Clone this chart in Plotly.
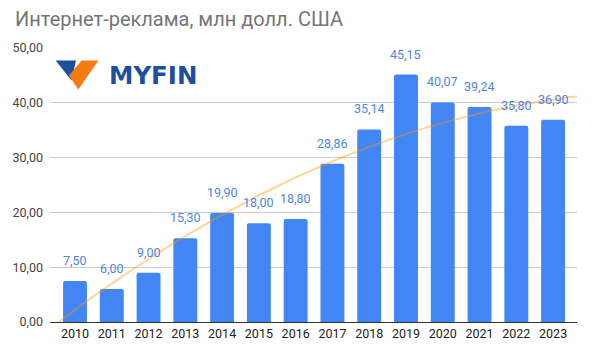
import numpy as np
import plotly.graph_objects as go

years = ["2010", "2011", "2012", "2013", "2014", "2015", "2016",
         "2017", "2018", "2019", "2020", "2021", "2022", "2023"]
values = [7.50, 6.00, 9.00, 15.30, 19.90, 18.00, 18.80,
          28.86, 35.14, 45.15, 40.07, 39.24, 35.80, 36.90]
labels = [f"{v:.2f}".replace(".", ",") for v in values]
title_text = "Интернет-реклама, млн долл. США"
logo_text = "MYFIN"

W, H = 592, 353
ML, MR, MT, MB = 50, 15, 47.5, 27.5
XMIN, XMAX = -0.68, 13.65

idx = np.arange(len(values))
coef = np.polyfit(idx, values, 2)
tx = np.linspace(XMIN, XMAX, 200)
ty = np.polyval(coef, tx)

fig = go.Figure()
fig.add_trace(go.Bar(
    x=idx, y=values,
    marker=dict(color="#4285F4", cornerradius=2, line=dict(width=0)),
    width=0.65, hoverinfo="skip",
))
fig.add_trace(go.Scatter(
    x=tx, y=ty, mode="lines",
    line=dict(color="rgba(255,153,0,0.42)", width=2),
    hoverinfo="skip",
))

for i, (v, lab) in enumerate(zip(values, labels)):
    fig.add_annotation(x=i, y=v, text=lab, showarrow=False,
                       yanchor="bottom", yshift=11,
                       font=dict(family="Roboto", size=12.5, color="#4A86E8"))

# logo (paper coords from pixel positions)
pw = W - ML - MR
ph = H - MT - MB

def px(x):
    return (x - ML) / pw

def py(y):
    return (H - MB - y) / ph

def path(pts):
    return "M " + " L ".join(f"{px(a):.4f},{py(b):.4f}" for a, b in pts) + " Z"

fig.add_shape(type="path", xref="paper", yref="paper",
              path=path([(55.7, 60.3), (76, 60.3), (71.5, 80.5)]),
              fillcolor="#1D4F9F", line=dict(width=0))
fig.add_shape(type="path", xref="paper", yref="paper",
              path=path([(81.5, 60.3), (98.5, 60.3), (78.3, 89.5), (69.0, 75.5)]),
              fillcolor="#F47C10", line=dict(width=0))

fig.add_annotation(x=px(152.5), y=py(75.5), xref="paper", yref="paper",
                   text=f"<b>{logo_text}</b>", showarrow=False,
                   xanchor="center", yanchor="middle",
                   font=dict(family="DejaVu Sans", size=24.5, color="#1D4F9F"))

fig.update_layout(
    width=W, height=H,
    margin=dict(l=ML, r=MR, t=MT, b=MB),
    paper_bgcolor="white", plot_bgcolor="white",
    showlegend=False,
    separators=", ",
    title=dict(text=title_text, xref="container", yref="container",
               x=15 / W, xanchor="left", y=1 - 19 / H, yanchor="middle",
               font=dict(family="Roboto", size=20, color="#757575")),
    xaxis=dict(range=[XMIN, XMAX], tickmode="array", tickvals=list(idx),
               ticktext=years, showgrid=False, zeroline=False,
               showline=True, linecolor="#333333", linewidth=1,
               ticks="", tickfont=dict(family="Roboto", size=12.5, color="#222222")),
    yaxis=dict(range=[0, 50], dtick=10, tickformat=".2f",
               showgrid=True, gridcolor="#CCCCCC", gridwidth=1,
               zeroline=False, showline=False, ticks="",
               ticklabelstandoff=6,
               tickfont=dict(family="Roboto", size=12.5, color="#444444")),
)

fig.write_html("out.html")
